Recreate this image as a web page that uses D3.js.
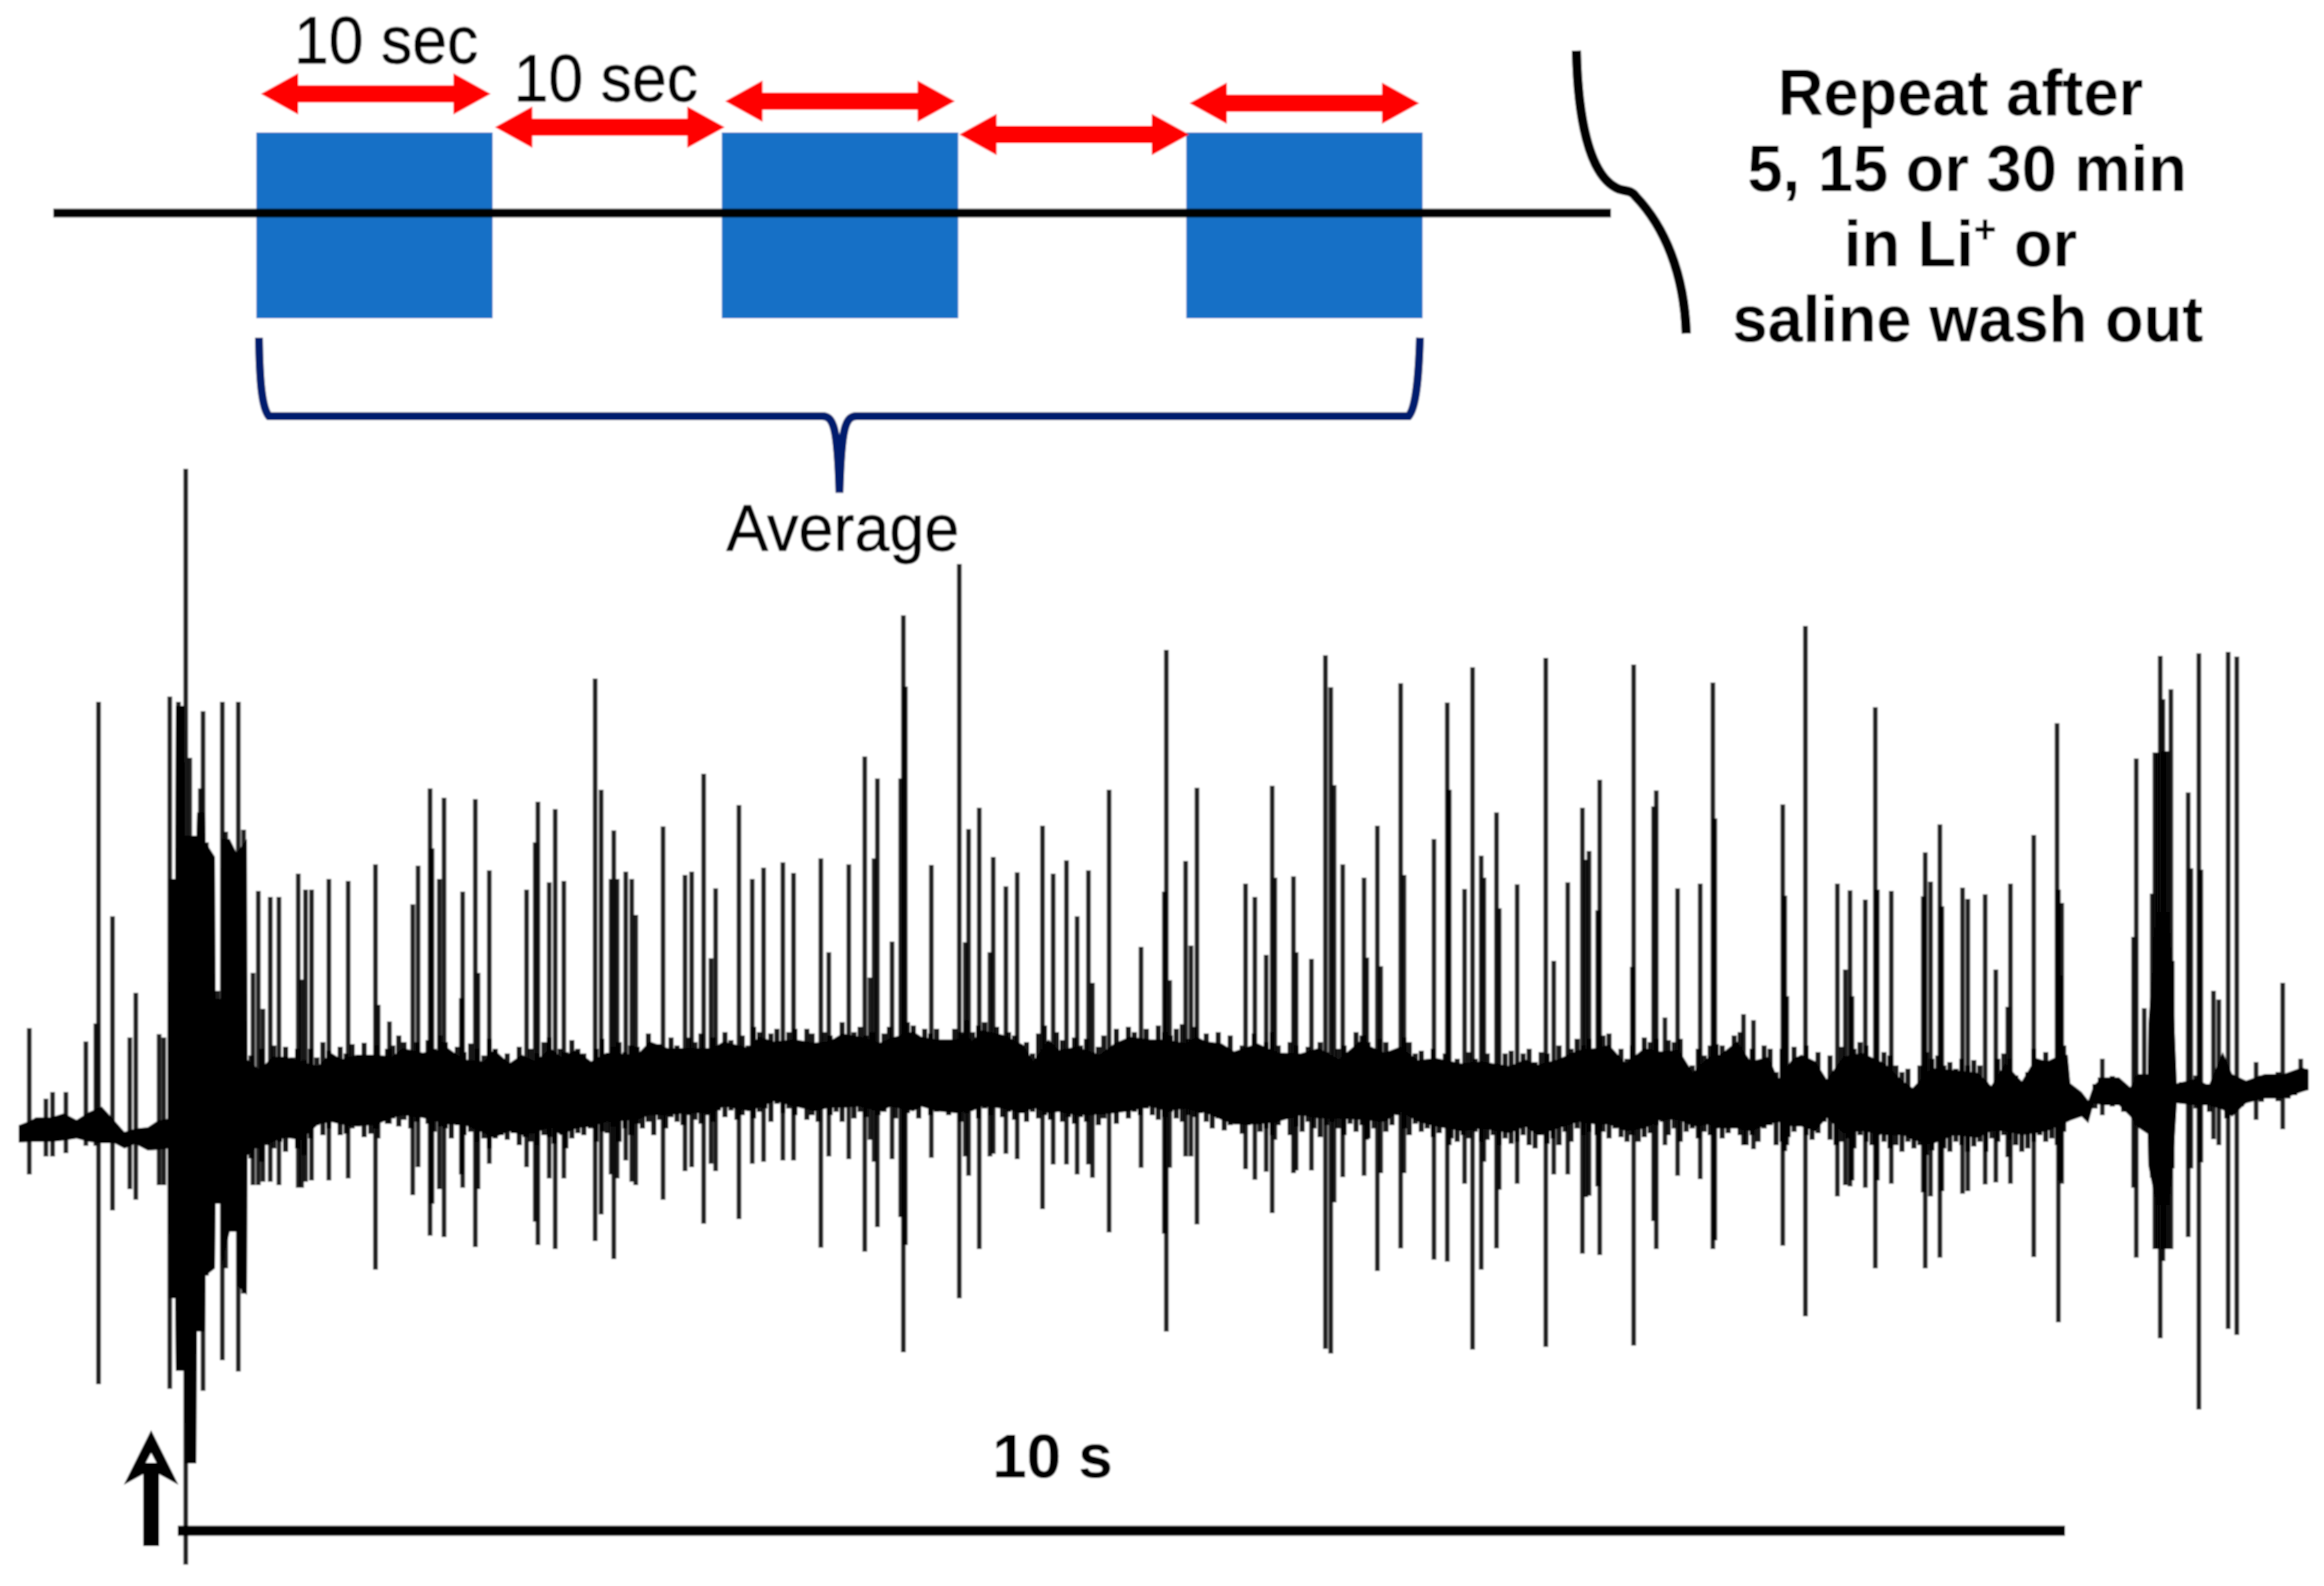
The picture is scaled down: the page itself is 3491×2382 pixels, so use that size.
<!DOCTYPE html>
<html><head><meta charset="utf-8">
<script src="https://cdn.jsdelivr.net/npm/d3@7"></script>
<style>html,body{margin:0;padding:0;background:#fff}svg{display:block}</style>
</head><body><div id="chart"></div>
<script>
// Trace: samples at 283.5 samples per second, amplitude in arbitrary units
const spikeSample=[17,42,52,72,102,117,121,142,168,177,212,219,228,241,252,258,262,274,278,283,291,300,307,312,321,331,339,
353,361,368,379,392,421,426,432,441,467,496,537,541,558,593,601,619,622,633,640,666,668,687,691,708,764,777,781,798,807,820,867,876,891,895,900,913,922,928,969,1002,1012,1030,1041,1048,1083,1103,1120,1149,1165,
1206,1218,1248,1272,1280,1286,1291,1313,1326,1330,1333,1372,1414,1423,1428,1444,1460,1465,1484,1501,1539,1555,1575,1591,1608,1614,1639,1687,1722,1725,1730,1754,1762,1771,1844,1858,1875,1884,1888,1916,1920,1943,1964,1972,1977,1990,2022,2026,2042,2047,2077,2082,2127,2147,2150,2173,2185,2198,2202,2221,2225,2252,2295,
2307,2328,2350,2355,2360,2373,2376,2425,2427,2457,2461,2474,2493,2527,2546,2549,2592,2607,2651,2654,2657,2685,2733,2745,2752,2755,2775,2790,2793,2814,2862,2865,2873,2887,2890,2921,2929,2955,2971,2989,2993,3028,3063,3065,3068,3070,3131,3178,3182,3194,3206,3210,3214,3218,3222,3225,3229,3234,3236,3260,3264,3276,3279,3298,3306,3320,3333,3362,3402,3429];
const spikeMax=[156,50,60,60,136,163,646,324,142,209,147,142,654,646,996,562,445,516,632,435,413,212,646,451,418,646,454,
239,362,185,353,353,388,229,364,364,380,377,402,191,166,342,400,516,426,380,502,201,361,500,239,393,364,435,496,375,485,377,681,514,380,453,380,391,380,326,459,386,391,538,261,366,491,380,397,405,389,
411,270,402,564,232,411,531,286,531,776,669,401,853,285,455,487,270,413,369,390,460,388,408,324,393,224,514,278,361,724,228,407,280,517,373,353,266,520,382,384,270,260,716,668,521,402,382,262,460,249,674,386,440,645,514,365,698,415,382,480,336,372,712,
257,375,487,409,422,333,529,248,702,489,513,172,366,373,675,471,177,168,492,355,204,760,373,244,363,204,349,638,364,362,354,420,376,462,339,367,350,357,244,188,373,446,614,364,235,344,110,293,561,186,358,570,570,715,650,572,572,665,257,510,396,719,394,212,199,721,714,105,224,110];
const spikeMin=[-64,-37,-37,-32,-21,-21,-379,-118,-86,-102,-80,-80,-386,-359,-650,-498,-498,-281,-389,-216,-205,-108,-343,-205,-135,-360,-243,
-80,-80,-75,-75,-80,-84,-84,-75,-73,-73,-70,-207,-10,12,-95,-53,-156,-108,-86,-158,-64,-84,-173,-86,-48,-53,-135,-170,-70,-176,-70,-164,-124,-64,-191,-70,-43,-75,-80,-102,-59,-53,-138,-48,-59,-131,-48,-45,-43,-43,
-174,-37,-41,-180,-12,-45,-143,-41,-128,-331,-170,-39,-250,-37,-66,-176,-37,-33,-33,-41,-116,-49,-49,-64,-49,-69,-151,-54,-153,-300,-54,-37,-37,-139,-56,-72,-60,-122,-12,-62,-58,-58,-326,-333,-106,-68,-66,-12,-209,-62,-175,-62,-192,-195,-20,-78,-327,-207,-45,-175,-87,-78,-323,
-64,-64,-183,-98,-96,-82,-185,7,-321,-134,-176,-20,-66,-71,-176,-163,-20,-26,-171,-29,-20,-277,-97,-80,-82,-73,-84,-205,-73,-78,-91,-205,-97,-189,-89,-93,-89,-79,-76,-38,-78,-188,-20,-286,-73,-78,25,-84,-189,7,-69,-176,-176,-310,-194,-176,-176,-176,-55,-158,-55,-417,-46,-11,-20,-296,-305,18,4,61];
// Envelope of the continuous noise band
const bandSample=[1,19,27,50,69,88,107,126,145,160,176,195,210,226,227,236,237,250,251,268,269,281,282,296,297,304,305,318,328,329,344,345,363,382,402,425,451,470,486,509,539,562,578,608,646,669,700,715,738,757,777,800,815,838,861,884,930,949,976,1006,1044,1060,1098,1113,1136,1167,
1196,1219,1238,1265,1295,1311,1345,1357,1380,1410,1422,1433,1448,1479,1510,1525,1548,1563,1590,1625,1647,1670,1701,1724,1755,1770,1785,1808,1827,1862,1892,1927,1954,1984,2015,2053,2076,2103,2130,2168,2198,2241,2264,2283,2313,2344,2371,
2390,2415,2443,2467,2495,2516,2540,2557,2582,2603,2630,2644,2665,2679,2700,2717,2742,2770,2804,2832,2846,2874,2909,2944,2964,2985,3010,3031,3048,3069,3079,3083,3100,3110,3118,3131,3156,3173,3184,3199,3200,3212,3232,3238,3243,3271,3291,3312,3326,3347,3375,3403,3431,3441];
const bandTop=[10,17,22,22,28,18,30,38,17,0,5,7,17,20,380,380,640,640,445,445,480,480,435,413,200,200,440,440,420,420,440,122,107,127,127,120,113,133,123,130,130,127,140,133,140,123,120,138,117,130,120,140,127,137,120,133,130,150,140,140,140,150,140,157,150,153,
148,150,162,157,148,155,165,157,153,153,163,150,167,160,145,120,153,137,142,130,147,157,153,153,147,157,150,147,135,147,133,132,140,123,150,133,142,122,125,117,120,113,123,115,123,137,140,
145,117,140,135,137,103,127,130,150,120,127,93,123,130,120,93,127,133,117,90,80,110,107,103,83,117,90,125,120,130,130,73,60,47,70,82,82,67,87,87,160,330,330,200,73,80,70,120,87,77,87,87,97,93];
const bandBottom=[-16,-15,-15,-15,-13,-10,-15,-17,-17,-25,-18,-28,-27,-25,-250,-250,-359,-359,-498,-498,-300,-300,-216,-205,-108,-108,-205,-150,-150,-230,-245,-43,-27,-23,-17,-20,3,7,3,0,3,13,17,13,3,3,-10,-17,-7,-13,-10,0,-13,-3,0,7,10,17,17,20,20,30,23,28,38,30,
23,28,28,30,22,30,23,30,23,20,23,23,30,27,20,28,20,22,17,18,20,23,30,23,27,23,20,10,3,3,7,17,12,12,10,7,23,7,0,-7,-3,-10,0,-13,-3,7,3,
3,-7,-3,10,10,0,3,-3,-3,-7,3,7,0,0,-7,13,-10,-7,-13,-13,-20,-27,-13,-17,-7,-7,-13,-10,-7,3,7,17,23,13,43,40,40,23,7,-3,-50,-110,-110,-40,43,40,40,33,23,43,50,50,60,63];
// Fine jagged edge of the noise band
const hairSample=[350,358,366,375,384,393,402,412,420,430,440,449,458,467,475,484,493,502,511,520,530,538,547,555,563,572,580,590,599,607,616,625,634,642,651,660,670,680,690,700,708,717,726,735,744,753,762,770,780,790,798,806,815,823,832,841,850,860,868,877,885,894,903,912,921,930,938,947,955,964,973,981,990,999,1008,1017,1026,1035,1044,1052,1062,1071,1080,1088,1097,1105,1114,1122,1131,1140,1149,1158,1167,
1176,1185,1193,1202,1211,1220,1229,1238,1247,1256,1265,1274,1283,1292,1301,1309,1318,1327,1336,1345,1353,1362,1371,1380,1398,1407,1416,1425,1434,1443,1452,1461,1470,1479,1488,1497,1506,1515,1524,1533,1542,1551,1560,1569,1578,1587,1596,1605,1614,1623,1631,1640,1650,1659,1668,1677,1686,1695,1704,1713,1722,1731,1740,1749,1758,1767,1776,1785,1794,1803,1812,1821,1830,1839,1848,1857,1866,1875,1884,1893,1902,1911,1920,1929,1938,1947,1956,1965,1974,1983,1992,2001,2010,2019,2028,2037,2046,2055,2064,2073,2082,2090,2099,2108,2117,2126,2135,2144,2153,2162,2171,2180,2189,2198,2207,2216,2225,2234,2243,2252,2261,2270,2279,2288,2297,2306,2315,2324,2333,2342,2351,2360,
2372,2381,2390,2399,2408,2417,2425,2434,2443,2452,2461,2470,2479,2488,2497,2506,2515,2524,2533,2542,2551,2560,2569,2578,2587,2596,2605,2614,2623,2632,2641,2650,2659,2668,2677,2686,2695,2704,2713,2722,2731,2740,2749,2758,2767,2776,2785,2794,2803,2812,2821,2830,2839,2848,2857,2866,2875,2884,2893,2902,2911,2920,2929,2938,2947,2956,2965,2974,2983,2992,3001,3010,3019,3028,3037,3046,3055,3064,3073,
3120,3128,3138,3146,3155,3163,3250,3262,3272,3283,3292,3318,3340,3352,3370,3385,3395,3410,3420,3436];
const hairTop=[115,95,125,100,130,105,128,112,125,108,125,112,135,122,100,128,118,132,112,134,100,130,75,125,130,145,135,108,135,90,138,125,145,135,100,128,120,133,125,115,140,125,105,118,95,128,100,125,118,135,142,108,125,120,138,125,118,105,125,140,95,128,135,120,130,128,90,148,120,132,110,142,130,115,142,135,148,125,142,120,150,138,108,145,130,158,150,120,148,155,125,150,155,
100,155,148,130,150,145,120,165,100,150,158,145,150,125,148,158,130,140,165,160,110,155,148,155,95,155,150,168,150,160,165,130,158,100,150,145,118,135,118,148,160,125,150,138,118,142,130,140,120,128,145,90,155,92,158,150,140,155,120,160,150,145,155,162,140,158,135,148,125,150,120,145,85,130,90,148,120,135,150,130,80,135,130,105,128,100,135,120,85,125,130,110,150,145,135,125,140,135,115,80,142,135,118,122,100,125,85,118,70,110,75,120,110,90,118,95,70,118,122,100,118,125,105,120,118,105,130,100,125,140,130,140,
100,145,148,110,125,110,130,115,142,135,140,85,138,135,140,100,100,125,115,130,132,130,120,145,150,70,125,100,130,125,90,125,95,128,85,130,95,120,75,115,85,128,110,125,135,130,110,60,120,115,100,90,95,55,100,120,110,115,100,105,95,110,100,108,100,75,50,110,118,110,85,60,90,125,100,120,90,125,130,
72,82,70,84,72,68,75,60,85,70,72,80,78,65,85,72,90,70,92,95];
const hairBottom=[-40,-25,-45,-20,-25,-15,-30,-5,-25,-35,-10,10,-5,5,15,-5,-3,5,8,-8,-3,5,30,12,20,8,18,5,15,28,12,0,8,5,-10,10,-5,0,-15,-10,-25,-10,-5,-12,-2,-20,-8,-15,-20,-5,-8,-18,0,-25,-10,-2,-5,5,-15,0,-2,8,-15,5,-5,12,5,15,-5,18,5,22,15,10,25,18,12,25,15,32,22,32,18,25,45,20,30,35,15,42,28,35,25,
48,18,25,15,35,25,30,15,42,20,30,22,38,25,30,40,20,35,28,42,20,40,25,30,25,50,15,28,45,20,35,25,42,22,30,18,28,15,30,20,25,18,30,15,22,12,22,15,25,10,20,30,12,42,20,30,25,35,25,18,22,30,20,15,25,22,28,15,5,20,2,10,25,-3,10,20,0,5,-5,10,30,-5,8,0,15,5,-8,10,15,5,-5,12,0,10,-10,5,15,0,10,25,5,-5,12,0,5,-8,-2,8,-10,-15,-5,-10,0,-15,-12,-5,-20,-10,-18,-15,-5,-20,-25,-5,-18,-10,-20,0,-15,5,-5,0,
-5,0,-10,5,-8,-15,-5,-15,-8,-2,10,15,-5,5,-15,0,5,-10,0,-5,5,-10,-2,10,-5,-20,-5,-15,5,10,-20,-15,-8,0,8,-5,-12,-2,15,-12,-20,-15,-10,-25,-5,-15,-20,-5,-15,-25,-20,-30,-15,-25,-20,-35,-28,-15,-25,-30,-15,-20,-30,-22,-15,-30,-10,-15,-5,-12,-20,-30,-25,-15,-5,-15,-10,-5,0,
35,42,45,38,40,30,48,42,35,45,30,20,38,45,45,52,46,50,55,62];
// Protocol schematic: sweep times in seconds
const blockStart=[0,19.7,39.35];
const blockLength=10;
const gapStart=[10.1,29.75];
const barSeconds=10;
const samplesPerSecond=283.5;
const barStartSample=240;
const repeatLines=["Repeat after","5, 15 or 30 min","saline wash out"];

const W=3491,H=2382;
const svg=d3.select("#chart").append("svg").attr("width",W).attr("height",H).attr("viewBox",`0 0 ${W} ${H}`);
const defs=svg.append("defs");
defs.append("filter").attr("id","soft").attr("filterUnits","userSpaceOnUse").attr("x",0).attr("y",0).attr("width",W).attr("height",H)
  .append("feGaussianBlur").attr("stdDeviation",1.3);
const g=svg.append("g").attr("filter","url(#soft)");
g.append("rect").attr("width",W).attr("height",H).attr("fill","#fff");

const x=d3.scaleLinear().domain([0,3441]).range([27,3468]);
const y=d3.scaleLinear().domain([-650,1000]).range([2350,700]);
const tx=d3.scaleLinear().domain([0,10]).range([385,740]);

// Schematic
g.append("g").selectAll("rect").data(blockStart).join("rect")
 .attr("x",d=>tx(d)).attr("width",tx(blockLength)-tx(0)).attr("y",199).attr("height",279).attr("fill","#1870c6");
g.append("line").attr("x1",80).attr("x2",2420).attr("y1",320).attr("y2",320).attr("stroke","#000").attr("stroke-width",13);

const arrowT=[{s:blockStart[0],y:141,o:7},{s:gapStart[0],y:191,o:0},{s:blockStart[1],y:152,o:5},{s:gapStart[1],y:202,o:0},{s:blockStart[2],y:155,o:5}];
function arrowPath(d){
  const a=tx(d.s)+d.o, b=a+345, c=d.y;
  return d3.line()([[a,c],[a+56,c-31],[a+56,c-13],[b-56,c-13],[b-56,c-31],[b,c],[b-56,c+31],[b-56,c+13],[a+56,c+13],[a+56,c+31]])+"Z";
}
g.append("g").selectAll("path").data(arrowT).join("path").attr("d",arrowPath).attr("fill","#ff0000");

const sans="'Liberation Sans',Arial,sans-serif";
function label(t,xx,yy,size,weight,stretch){return g.append("text").attr("transform",`translate(${xx},${yy}) scale(1,${stretch||1})`)
  .attr("font-family",sans).attr("font-size",size).attr("font-weight",weight||"normal").attr("text-anchor","middle").attr("fill","#000").text(t);}
label("10 sec",580,95,94,"normal",1.07).attr("stroke","#000").attr("stroke-width",0.8);
label("10 sec",910,152,94,"normal",1.07).attr("stroke","#000").attr("stroke-width",0.8);
label("Average",1266,827,94.5,"normal",1.04).attr("stroke","#000").attr("stroke-width",0.8);
label(repeatLines[0],2945,173,95,"bold",1.03);
label(repeatLines[1],2955,287,95,"bold",1.03);
const li=label("",2945,400,95,"bold",1.03);
li.append("tspan").text("in Li");
li.append("tspan").text("+").attr("font-size",58).attr("dy",-34);
li.append("tspan").text(" or").attr("dy",34);
label(repeatLines[2],2956,513,95,"bold",1.03);
label("10 s",1581,2219,93,"bold");

// Braces
g.append("path").attr("fill","none").attr("stroke","#001f6e").attr("stroke-width",12)
 .attr("d","M389,507 C390,570 393,612 404,625 L1235,625 C1252,625 1258,640 1261,740 C1264,640 1270,625 1287,625 L2116,625 C2127,612 2131,570 2133,507");
g.append("path").attr("fill","none").attr("stroke","#000").attr("stroke-width",14)
 .attr("d","M2368,76 C2370,170 2385,265 2432,284 C2440,287 2450,285 2457,295 C2500,340 2530,410 2533,501");

// Recording trace: solid core, then fine edge, then action potentials
const inset=s=>(s>=345&&s<=3082)?1:0;
const band=d3.area().x(d=>x(d.s)).y0(d=>y(d.lo+8*inset(d.s))).y1(d=>y(d.hi-14*inset(d.s)));
g.append("path").datum(bandSample.map((s,i)=>({s,hi:bandTop[i],lo:bandBottom[i]}))).attr("d",band).attr("fill","#000");
g.append("g").selectAll("line").data(hairSample.map((s,i)=>({s,hi:hairTop[i],lo:hairBottom[i]}))).join("line")
 .attr("x1",d=>x(d.s)).attr("x2",d=>x(d.s)).attr("y1",d=>y(d.hi)).attr("y2",d=>y(d.lo))
 .attr("stroke","#000").attr("stroke-opacity",0.9).attr("stroke-width",8);
g.append("g").selectAll("line").data(spikeSample.map((s,i)=>({s,hi:spikeMax[i],lo:spikeMin[i]}))).join("line")
 .attr("x1",d=>x(d.s)).attr("x2",d=>x(d.s)).attr("y1",d=>y(d.hi)).attr("y2",d=>y(d.lo))
 .attr("stroke","#000").attr("stroke-opacity",0.88).attr("stroke-width",7);

// Stimulus arrow
g.append("path").attr("d","M227,2148 L268,2230 L239,2214 L239,2322 L215,2322 L215,2214 L186,2230 Z").attr("fill","#000");
g.append("path").attr("d","M227,2182 L235,2197 L219,2197 Z").attr("fill","#fff");

// Time bar
const barX0=x(barStartSample), barX1=x(barStartSample+barSeconds*samplesPerSecond);
g.append("line").attr("x1",barX0).attr("x2",barX1).attr("y1",2299).attr("y2",2299).attr("stroke","#000").attr("stroke-width",15);
</script></body></html>
